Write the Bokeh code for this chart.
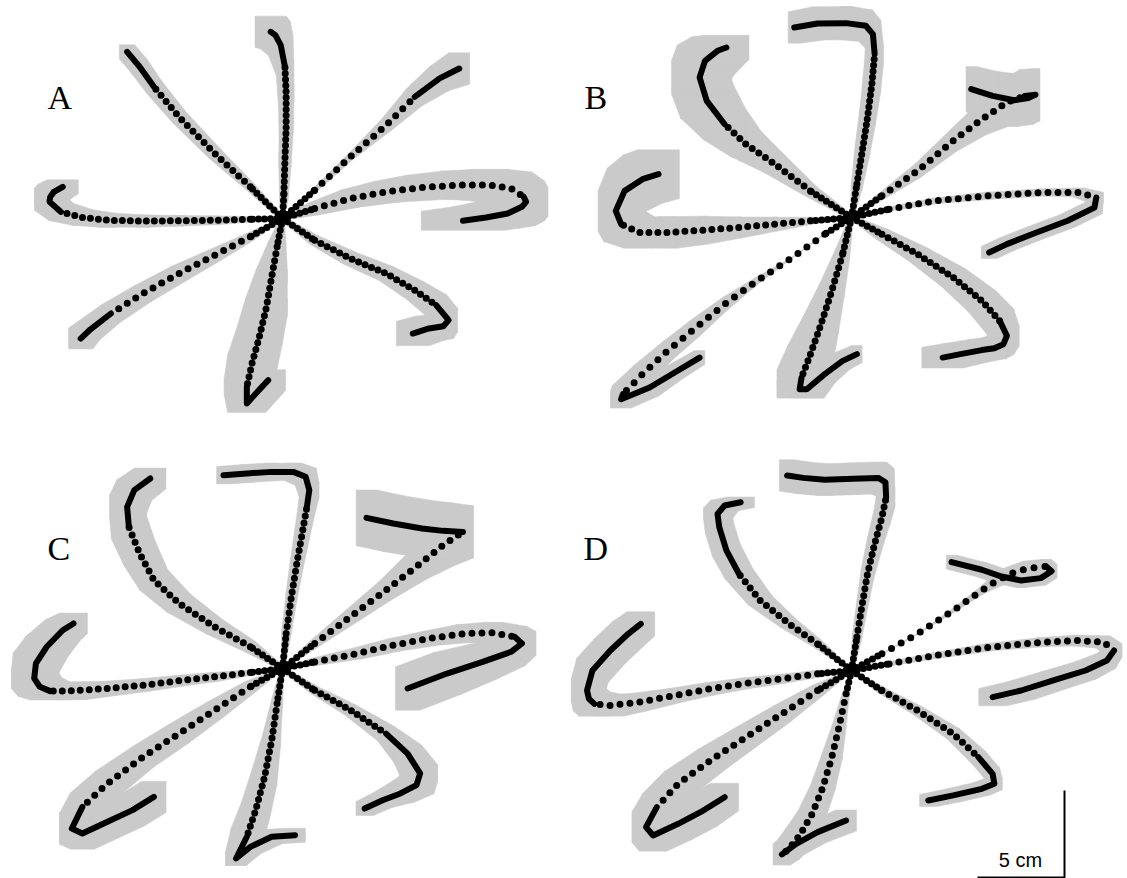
from bokeh.plotting import figure
from bokeh.models import Range1d, Label, ColumnDataSource
from bokeh.embed import file_html
from bokeh.resources import INLINE

# ---------------------------------------------------------------------------
# Mean hand paths (cm, relative to the start position), eight reach
# directions per condition, ordered N, NW, NE, E, SE, S, SW, W.
# *_SDX / *_SDY: spread of the hand position across trials at each sample (cm)
# *_PITCH: spacing of the sampled positions along the fast part (px)
# *_SLOW: sample index from which the hand moves slowly and samples merge
# ---------------------------------------------------------------------------
A_X = [
    [0, 0.08, 0.14, 0.21, 0.21, 0.14, -0.10, -0.41, -0.68],
    [0, -1.85, -3.90, -5.95, -7.39, -8.21, -8.93],
    [0, 1.85, 3.90, 5.95, 7.60, 9.03, 10.16],
    [0, 1.85, 3.90, 5.95, 8.01, 10.06, 11.91, 13.14, 13.86, 14.00, 13.76, 12.94, 11.70, 10.37],
    [0, 1.85, 3.90, 5.95, 7.60, 8.83, 9.55, 9.24, 8.42, 7.49],
    [0, -0.31, -0.62, -0.92, -1.33, -1.75, -2.05, -2.05, -1.44, -0.82],
    [0, -1.85, -3.90, -5.95, -8.01, -9.86, -11.09, -11.60],
    [0, -1.85, -3.90, -5.95, -8.01, -10.06, -11.50, -12.73, -13.39, -13.35, -13.14, -12.63],
]
A_Y = [
    [0, 1.44, 3.35, 5.27, 7.18, 8.72, 9.96, 10.54, 10.73],
    [0, 1.82, 3.74, 5.84, 7.57, 8.72, 9.58],
    [0, 1.63, 3.54, 5.36, 6.99, 8.05, 8.62],
    [0, 0.57, 1.15, 1.53, 1.78, 1.92, 1.92, 1.72, 1.25, 0.96, 0.67, 0.29, 0.06, -0.13],
    [0, -1.25, -2.30, -3.16, -4.12, -4.98, -5.84, -6.19, -6.32, -6.61],
    [0, -1.63, -3.35, -5.08, -6.80, -8.33, -9.67, -10.63, -9.96, -9.29],
    [0, -1.05, -2.11, -3.16, -4.31, -5.46, -6.42, -6.90],
    [0, -0.04, -0.10, -0.13, -0.15, -0.10, 0.06, 0.38, 0.96, 1.24, 1.53, 1.82],
]
A_SDX = [
    [0.10, 0.25, 0.35, 0.40, 0.45, 0.50, 0.70, 0.85, 0.90],
    [0.10, 0.20, 0.30, 0.35, 0.40, 0.45, 0.45],
    [0.05, 0.10, 0.15, 0.30, 0.45, 0.55, 0.60],
    [0.10, 0.30, 0.50, 0.70, 0.90, 1.00, 1.10, 1.20, 1.20, 1.25, 1.30, 1.60, 2.00, 2.40],
    [0.10, 0.25, 0.35, 0.40, 0.50, 0.60, 0.50, 0.60, 0.80, 0.95],
    [0.10, 0.50, 0.90, 1.20, 1.30, 1.40, 1.30, 1.10, 1.10, 1.00],
    [0.05, 0.20, 0.35, 0.45, 0.50, 0.55, 0.60, 0.70],
    [0.10, 0.20, 0.30, 0.35, 0.40, 0.50, 0.60, 0.70, 0.85, 0.90, 0.90, 0.90],
]
A_SDY = [
    [0.10, 0.30, 0.40, 0.40, 0.50, 0.50, 0.60, 0.80, 0.90],
    [0.10, 0.20, 0.30, 0.35, 0.40, 0.40, 0.40],
    [0.05, 0.10, 0.15, 0.30, 0.50, 0.70, 0.90],
    [0.10, 0.35, 0.50, 0.60, 0.70, 0.80, 0.90, 0.95, 0.90, 0.85, 0.80, 0.70, 0.60, 0.55],
    [0.10, 0.25, 0.35, 0.40, 0.50, 0.60, 0.70, 0.70, 0.70, 0.70],
    [0.10, 0.30, 0.40, 0.50, 0.50, 0.50, 0.50, 0.50, 0.50, 0.60],
    [0.05, 0.20, 0.30, 0.40, 0.45, 0.50, 0.55, 0.60],
    [0.05, 0.15, 0.25, 0.30, 0.35, 0.40, 0.45, 0.50, 0.50, 0.50, 0.45, 0.40],
]
A_PITCH = [6, 8, 10, 10, 7, 7, 10, 8]
A_SLOW = [5, 4, 4, 8, 5, 6, 5, 7]

B_X = [
    [0, 0.31, 0.62, 0.92, 1.17, 1.33, 1.23, 0.82, -0.31, -1.95, -3.29],
    [0, -2.36, -4.41, -6.06, -7.29, -8.32, -8.73, -8.42, -7.70, -7.19],
    [0, 1.75, 3.80, 5.85, 7.49, 8.93, 9.96, 10.57, 10.16, 9.34, 8.11, 6.88],
    [0, 2.16, 4.83, 7.91, 10.99, 13.04, 14.07, 13.96, 12.42, 10.37, 8.93, 7.91],
    [0, 1.75, 3.80, 5.85, 7.49, 8.52, 8.93, 8.73, 8.21, 7.49, 6.26, 5.24],
    [0, -0.51, -1.13, -1.75, -2.36, -2.87, -2.98, -2.57, -1.54, -0.51, 0.31],
    [0, -1.54, -3.39, -5.44, -7.29, -8.93, -10.57, -12.01, -13.14, -13.24, -11.60, -10.16, -8.73],
    [0, -2.36, -4.41, -6.47, -8.52, -10.57, -12.22, -13.24, -13.55, -13.04, -12.01, -11.09],
]
B_Y = [
    [0, 1.92, 3.83, 5.75, 7.66, 9.39, 10.54, 11.02, 11.17, 11.15, 10.92],
    [0, 1.53, 3.07, 4.21, 5.36, 6.70, 8.05, 9.00, 9.58, 9.77],
    [0, 1.25, 2.68, 4.41, 5.65, 6.61, 6.99, 7.05, 6.86, 6.74, 6.99, 7.38],
    [0, 0.48, 0.96, 1.25, 1.44, 1.44, 1.15, 0.57, -0.19, -0.96, -1.53, -2.01],
    [0, -0.96, -2.11, -3.45, -4.79, -5.94, -6.80, -7.28, -7.51, -7.62, -7.85, -8.05],
    [0, -2.11, -4.21, -6.13, -7.85, -9.20, -9.87, -9.87, -9.00, -8.24, -7.85],
    [0, -0.96, -2.30, -3.64, -4.98, -6.32, -7.66, -9.00, -10.15, -10.44, -9.77, -8.91, -8.05],
    [0, -0.19, -0.38, -0.57, -0.73, -0.86, -0.86, -0.38, 0.38, 1.53, 2.20, 2.49],
]
B_SDX = [
    [0.10, 0.30, 0.40, 0.45, 0.50, 0.50, 0.45, 0.40, 0.35, 0.35, 0.35],
    [0.10, 0.30, 0.60, 0.90, 1.20, 1.50, 1.60, 1.60, 1.50, 1.30],
    [0.05, 0.10, 0.15, 0.20, 0.25, 0.30, 0.30, 0.25, 0.30, 0.30, 0.30, 0.30],
    [0.10, 0.15, 0.20, 0.25, 0.30, 0.35, 0.40, 0.45, 0.45, 0.45, 0.45, 0.45],
    [0.10, 0.30, 0.50, 0.70, 0.80, 0.80, 0.70, 0.60, 0.70, 0.80, 1.00, 1.20],
    [0.10, 0.40, 0.70, 1.00, 1.30, 1.40, 1.30, 1.00, 0.60, 0.40, 0.30],
    [0.02, 0.02, 0.02, 0.05, 0.10, 0.20, 0.30, 0.50, 0.60, 0.60, 0.50, 0.40, 0.30],
    [0.05, 0.10, 0.15, 0.20, 0.30, 0.60, 0.90, 1.00, 1.00, 1.00, 1.10, 1.20],
]
B_SDY = [
    [0.10, 0.30, 0.40, 0.45, 0.50, 0.60, 0.80, 0.90, 0.95, 0.95, 0.90],
    [0.10, 0.30, 0.50, 0.70, 0.90, 1.00, 1.00, 0.90, 0.80, 0.70],
    [0.05, 0.20, 0.40, 0.60, 0.90, 1.30, 1.50, 1.50, 1.50, 1.50, 1.40, 1.30],
    [0.05, 0.10, 0.15, 0.20, 0.20, 0.25, 0.30, 0.35, 0.35, 0.35, 0.35, 0.35],
    [0.10, 0.30, 0.40, 0.50, 0.60, 0.70, 0.60, 0.60, 0.60, 0.60, 0.60, 0.60],
    [0.10, 0.30, 0.40, 0.50, 0.50, 0.50, 0.50, 0.50, 0.50, 0.50, 0.50],
    [0.02, 0.02, 0.02, 0.20, 0.40, 0.50, 0.50, 0.50, 0.50, 0.50, 0.50, 0.40, 0.40],
    [0.05, 0.20, 0.40, 0.60, 0.80, 0.90, 0.90, 1.00, 1.20, 1.30, 1.40, 1.40],
]
B_PITCH = [6, 8, 10, 10, 7, 7, 11, 9]
B_SLOW = [5, 4, 6, 6, 5, 5, 8, 7]

C_X = [
    [0, 0.21, 0.51, 0.82, 1.13, 1.40, 1.54, 1.33, 0.62, -0.62, -2.05, -3.39],
    [0, -1.85, -3.90, -5.95, -7.39, -8.21, -8.83, -8.93, -8.52, -7.60],
    [0, 1.85, 3.90, 5.95, 7.80, 9.24, 10.37, 9.24, 8.01, 6.37, 4.83],
    [0, 1.85, 4.31, 6.37, 8.42, 10.47, 12.11, 13.35, 13.76, 13.14, 11.50, 9.45, 7.19],
    [0, 1.85, 3.90, 5.95, 7.19, 7.91, 7.70, 6.78, 5.75, 4.72],
    [0, -0.31, -0.62, -1.03, -1.54, -2.05, -2.67, -1.85, -0.62, 0.72],
    [0, -1.85, -3.90, -5.95, -8.01, -10.06, -11.50, -12.11, -11.50, -10.06, -8.62, -7.39],
    [0, -1.85, -3.90, -5.95, -8.01, -10.06, -12.11, -13.35, -13.95, -14.27, -14.17, -13.55, -12.63, -12.01],
]
C_Y = [
    [0, 2.01, 4.12, 6.03, 7.76, 9.29, 10.25, 11.02, 11.30, 11.30, 11.21, 11.11],
    [0, 1.25, 2.39, 3.74, 5.08, 6.61, 8.14, 9.29, 10.25, 10.92],
    [0, 1.44, 2.97, 4.50, 5.94, 7.09, 7.85, 7.91, 8.05, 8.33, 8.66],
    [0, 0.38, 0.86, 1.34, 1.72, 2.01, 2.05, 1.82, 1.44, 0.96, 0.38, -0.29, -1.15],
    [0, -1.25, -2.39, -3.74, -4.89, -6.03, -6.70, -7.18, -7.57, -8.05],
    [0, -2.01, -4.12, -6.23, -8.14, -9.67, -10.92, -10.25, -9.67, -9.58],
    [0, -1.05, -2.39, -3.74, -5.08, -6.61, -7.95, -9.20, -9.48, -8.81, -8.14, -7.38],
    [0, -0.23, -0.48, -0.71, -0.96, -1.15, -1.28, -1.30, -1.05, -0.57, 0.30, 1.25, 2.20, 2.59],
]
C_SDX = [
    [0.10, 0.25, 0.30, 0.35, 0.40, 0.45, 0.55, 0.60, 0.50, 0.40, 0.40, 0.40],
    [0.10, 0.30, 0.50, 0.70, 0.80, 0.90, 1.00, 1.00, 1.00, 0.90],
    [0.05, 0.20, 0.30, 0.40, 0.50, 0.60, 0.60, 0.60, 0.60, 0.60, 0.60],
    [0.10, 0.20, 0.30, 0.35, 0.40, 0.50, 0.60, 0.70, 0.80, 0.80, 0.80, 0.80, 0.70],
    [0.10, 0.20, 0.30, 0.50, 0.80, 1.00, 1.00, 0.80, 0.60, 0.50],
    [0.10, 0.30, 0.50, 0.70, 0.80, 0.90, 0.60, 0.60, 0.60, 0.60],
    [0.05, 0.30, 0.45, 0.55, 0.60, 0.70, 0.70, 0.70, 0.70, 0.70, 0.70, 0.70],
    [0.05, 0.15, 0.25, 0.30, 0.35, 0.50, 0.90, 1.20, 1.25, 1.30, 1.30, 1.20, 1.00, 0.80],
]
C_SDY = [
    [0.10, 0.25, 0.30, 0.35, 0.40, 0.45, 0.50, 0.50, 0.50, 0.50, 0.50, 0.50],
    [0.10, 0.30, 0.40, 0.50, 0.60, 0.70, 0.70, 0.70, 0.60, 0.60],
    [0.05, 0.20, 0.35, 0.50, 0.80, 1.20, 1.50, 1.60, 1.60, 1.60, 1.60],
    [0.05, 0.20, 0.30, 0.35, 0.40, 0.50, 0.60, 0.60, 0.70, 0.80, 1.00, 1.20, 1.25],
    [0.10, 0.20, 0.30, 0.40, 0.50, 0.50, 0.50, 0.50, 0.40, 0.40],
    [0.10, 0.30, 0.40, 0.50, 0.50, 0.50, 0.40, 0.40, 0.40, 0.40],
    [0.05, 0.30, 0.45, 0.55, 0.60, 0.70, 0.80, 0.90, 0.90, 0.90, 0.90, 0.90],
    [0.05, 0.15, 0.25, 0.30, 0.35, 0.40, 0.50, 0.50, 0.55, 0.60, 0.60, 0.60, 0.60, 0.60],
]
C_PITCH = [7, 8, 10, 10, 7, 7, 10, 9]
C_SLOW = [5, 6, 6, 7, 3, 5, 6, 7]

D_X = [
    [0, 0.31, 0.62, 0.92, 1.33, 1.75, 1.99, 1.95, 1.54, 0.10, -1.54, -2.77, -3.70],
    [0, -1.95, -3.59, -5.24, -6.47, -7.19, -7.60, -7.70, -7.29, -6.37],
    [0, 1.75, 3.80, 5.85, 7.49, 8.21, 9.14, 10.16, 11.19, 11.50, 10.88, 9.75, 8.62, 7.49, 5.75],
    [0, 2.16, 4.83, 7.91, 10.99, 13.04, 14.48, 15.09, 14.68, 13.45, 11.60, 9.75, 8.11],
    [0, 1.75, 3.80, 5.85, 7.29, 8.11, 8.21, 7.49, 5.85, 4.41],
    [0, -0.31, -0.72, -1.13, -1.64, -2.26, -2.98, -3.59, -4.00, -3.18, -1.95, -0.31],
    [0, -1.95, -4.00, -6.06, -8.11, -9.96, -11.19, -11.81, -11.40, -9.96, -8.52, -7.29],
    [0, -1.95, -4.00, -6.06, -8.11, -10.16, -12.22, -13.86, -14.78, -15.09, -15.20, -14.89, -13.86, -12.83, -12.11],
]
D_Y = [
    [0, 1.92, 3.83, 5.56, 7.28, 8.81, 9.96, 10.82, 11.07, 11.02, 10.96, 11.07, 11.21],
    [0, 1.53, 2.68, 4.02, 5.56, 6.90, 8.24, 9.00, 9.48, 9.67],
    [0, 0.96, 2.11, 3.45, 4.60, 5.08, 5.56, 5.88, 5.98, 5.71, 5.31, 5.17, 5.40, 5.79, 6.23],
    [0, 0.38, 0.86, 1.34, 1.63, 1.72, 1.63, 1.15, 0.57, 0.00, -0.57, -1.15, -1.53],
    [0, -1.15, -2.30, -3.64, -4.98, -5.94, -6.51, -6.80, -7.18, -7.47],
    [0, -1.34, -3.26, -4.98, -6.70, -8.24, -9.48, -10.25, -10.57, -9.96, -9.29, -8.62],
    [0, -1.15, -2.49, -3.83, -5.17, -6.51, -7.85, -9.00, -9.48, -8.81, -8.05, -7.28],
    [0, -0.19, -0.48, -0.73, -1.05, -1.44, -1.82, -2.01, -1.92, -1.63, -1.15, 0.00, 1.15, 2.11, 2.68],
]
D_SDX = [
    [0.10, 0.25, 0.30, 0.35, 0.40, 0.45, 0.50, 0.50, 0.50, 0.45, 0.45, 0.45, 0.45],
    [0.05, 0.30, 0.50, 0.70, 0.80, 0.80, 0.80, 0.80, 0.80, 0.80],
    [0.02, 0.02, 0.02, 0.05, 0.10, 0.20, 0.30, 0.30, 0.30, 0.30, 0.30, 0.30, 0.30, 0.30, 0.30],
    [0.05, 0.15, 0.20, 0.25, 0.30, 0.35, 0.40, 0.45, 0.50, 0.60, 0.70, 0.80, 0.80],
    [0.05, 0.20, 0.30, 0.35, 0.40, 0.40, 0.45, 0.50, 0.50, 0.50],
    [0.05, 0.20, 0.40, 0.60, 0.70, 0.80, 0.80, 0.60, 0.50, 0.50, 0.50, 0.60],
    [0.05, 0.30, 0.50, 0.60, 0.70, 0.80, 0.80, 0.80, 0.80, 0.80, 0.80, 0.80],
    [0.05, 0.10, 0.20, 0.25, 0.30, 0.35, 0.50, 0.80, 0.90, 0.90, 0.90, 0.90, 0.90, 0.90, 0.80],
]
D_SDY = [
    [0.10, 0.25, 0.30, 0.35, 0.40, 0.45, 0.60, 0.80, 0.90, 0.90, 0.90, 0.90, 0.90],
    [0.05, 0.15, 0.20, 0.25, 0.30, 0.35, 0.35, 0.35, 0.30, 0.30],
    [0.02, 0.02, 0.02, 0.10, 0.20, 0.30, 0.35, 0.40, 0.40, 0.40, 0.40, 0.40, 0.40, 0.40, 0.40],
    [0.05, 0.10, 0.15, 0.20, 0.25, 0.30, 0.35, 0.40, 0.45, 0.50, 0.50, 0.50, 0.50],
    [0.05, 0.15, 0.20, 0.30, 0.35, 0.35, 0.35, 0.35, 0.35, 0.35],
    [0.05, 0.10, 0.10, 0.10, 0.15, 0.20, 0.40, 0.60, 0.60, 0.60, 0.60, 0.60],
    [0.05, 0.30, 0.45, 0.55, 0.65, 0.70, 0.80, 0.90, 0.90, 0.90, 0.90, 0.80],
    [0.05, 0.20, 0.25, 0.30, 0.35, 0.40, 0.50, 0.60, 0.70, 0.70, 0.70, 0.70, 0.70, 0.70, 0.70],
]
D_PITCH = [7, 8, 11, 10, 8, 9, 10, 10]
D_SLOW = [6, 4, 8, 7, 4, 8, 6, 8]

PANEL_LABELS = ["A", "B", "C", "D"]
SCALE_BAR_CM = 5

# ---------------------------------------------------------------------------
# Layout
# ---------------------------------------------------------------------------
W, H = 1127, 878
PX_PER_CM = 17.4
PANEL_START_PX = [(282, 218), (851, 217), (282, 668), (851, 670)]
LABEL_PX = [(47, 97), (584, 97), (47, 548), (583, 548)]
GREY = "#cacaca"
INK = "#000000"
DOT_W = 7
PATH_W = 6


def cm_x(px):
    return px / PX_PER_CM


def cm_y(py):
    return (H - py) / PX_PER_CM


def hull(points):
    """Convex hull (monotone chain) of a small point set."""
    pts = sorted(set(points))
    if len(pts) <= 2:
        return pts

    def cross(o, a, b):
        return (a[0] - o[0]) * (b[1] - o[1]) - (a[1] - o[1]) * (b[0] - o[0])

    lower, upper = [], []
    for q in pts:
        while len(lower) >= 2 and cross(lower[-2], lower[-1], q) <= 0:
            lower.pop()
        lower.append(q)
    for q in reversed(pts):
        while len(upper) >= 2 and cross(upper[-2], upper[-1], q) <= 0:
            upper.pop()
        upper.append(q)
    return lower[:-1] + upper[:-1]


def spread_box(x, y, sx, sy):
    return [(x - sx, y - sy), (x + sx, y - sy), (x + sx, y + sy), (x - sx, y + sy)]


p = figure(width=W, height=H,
           x_range=Range1d(0, W / PX_PER_CM), y_range=Range1d(0, H / PX_PER_CM),
           output_backend="svg", toolbar_location=None, min_border=0,
           x_axis_type=None, y_axis_type=None)
p.grid.visible = False
p.outline_line_color = None
p.background_fill_color = "white"
p.border_fill_color = "white"

panels = [
    (A_X, A_Y, A_SDX, A_SDY, A_PITCH, A_SLOW),
    (B_X, B_Y, B_SDX, B_SDY, B_PITCH, B_SLOW),
    (C_X, C_Y, C_SDX, C_SDY, C_PITCH, C_SLOW),
    (D_X, D_Y, D_SDX, D_SDY, D_PITCH, D_SLOW),
]

for (xs_all, ys_all, sdx_all, sdy_all, pitch_all, slow_all), (sx0, sy0), label, (lx, ly) in zip(
        panels, PANEL_START_PX, PANEL_LABELS, LABEL_PX):
    ox, oy = cm_x(sx0), cm_y(sy0)

    # grey spread region: the x/y spread box swept between successive samples
    env = dict(xs=[], ys=[])
    for xs, ys, sdx, sdy in zip(xs_all, ys_all, sdx_all, sdy_all):
        for i in range(len(xs) - 1):
            corners = (spread_box(ox + xs[i], oy + ys[i], sdx[i], sdy[i]) +
                       spread_box(ox + xs[i + 1], oy + ys[i + 1], sdx[i + 1], sdy[i + 1]))
            poly = hull(corners)
            env["xs"].append([c[0] for c in poly])
            env["ys"].append([c[1] for c in poly])
    p.patches("xs", "ys", fill_color=GREY, line_color=GREY, line_width=0.5,
              source=ColumnDataSource(env))

    # hand path: dense start, spaced samples while fast, continuous when slow
    groups = {}
    solid = dict(xs=[], ys=[])
    for xs, ys, pitch, slow in zip(xs_all, ys_all, pitch_all, slow_all):
        px_ = [ox + v for v in xs]
        py_ = [oy + v for v in ys]
        groups.setdefault(6, dict(xs=[], ys=[]))
        groups[6]["xs"].append(px_[0:2])
        groups[6]["ys"].append(py_[0:2])
        groups.setdefault(pitch, dict(xs=[], ys=[]))
        groups[pitch]["xs"].append(px_[1:slow + 1])
        groups[pitch]["ys"].append(py_[1:slow + 1])
        solid["xs"].append(px_[slow:])
        solid["ys"].append(py_[slow:])
    for pitch, g in groups.items():
        p.multi_line("xs", "ys", line_width=DOT_W, line_color=INK, line_cap="round",
                     line_join="round", line_dash=f"0 {pitch}", source=ColumnDataSource(g))
    p.multi_line("xs", "ys", line_width=PATH_W, line_color=INK, line_cap="round",
                 line_join="round", source=ColumnDataSource(solid))

    p.add_layout(Label(x=cm_x(lx), y=cm_y(ly), text=label, text_font="Liberation Serif",
                       text_font_size="34px", text_color=INK, text_baseline="alphabetic"))

# 5 cm scale bar in the lower right corner
corner_x, corner_y = cm_x(1064), cm_y(877)
p.line([corner_x - SCALE_BAR_CM, corner_x, corner_x],
       [corner_y, corner_y, corner_y + SCALE_BAR_CM], line_color=INK, line_width=2)
p.add_layout(Label(x=cm_x(1020), y=cm_y(859), text=f"{SCALE_BAR_CM} cm",
                   text_font="Liberation Sans", text_font_size="20px", text_color=INK,
                   text_align="center", text_baseline="alphabetic"))

open("out.html", "w").write(file_html(p, INLINE))
